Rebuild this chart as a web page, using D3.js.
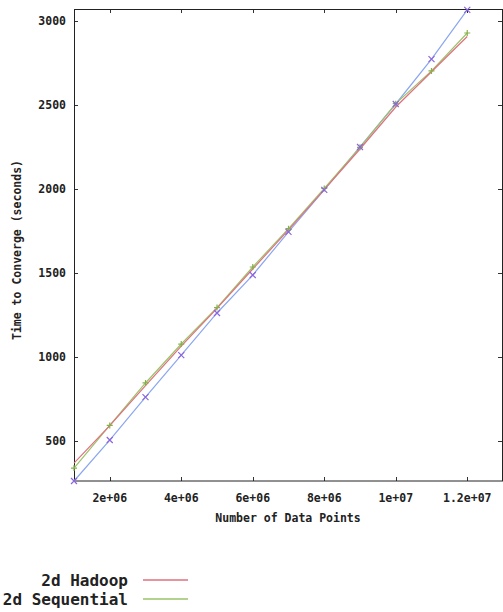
<!DOCTYPE html>
<html>
<head>
<meta charset="utf-8">
<script src="https://cdn.jsdelivr.net/npm/d3@7"></script>
<style>
  body { margin: 0; background: #fff; }
  svg { display: block; }
  text { font-family: "DejaVu Sans Mono", "Liberation Mono", monospace; font-weight: bold; fill: #222; }
</style>
</head>
<body>
<svg width="503" height="612"></svg>
<script>
'use strict';

// data
var points = [1e6, 2e6, 3e6, 4e6, 5e6, 6e6, 7e6, 8e6, 9e6, 1e7, 1.1e7, 1.2e7];
var hadoop = [369, 592, 830, 1065, 1290, 1525, 1758, 1998, 2240, 2490, 2700, 2910];
var sequential = [339, 593, 846, 1078, 1295, 1537, 1765, 2005, 2250, 2510, 2705, 2931];
var third = [262, 506, 762, 1012, 1263, 1489, 1746, 1996, 2252, 2508, 2775, 3069];

var xTicks = [2e6, 4e6, 6e6, 8e6, 1e7, 1.2e7];
var xTickLabels = ['2e+06', '4e+06', '6e+06', '8e+06', '1e+07', '1.2e+07'];
var yTicks = [500, 1000, 1500, 2000, 2500, 3000];
var legendNames = ['2d Hadoop', '2d Sequential'];
var legendColors = ['#e0707e', '#98c468'];

var svg = d3.select('svg');

// plot frame, gnuplot style
var margin = {top: 9, right: 1, bottom: 131, left: 74};
var width = 503 - margin.left - margin.right;
var height = 612 - margin.top - margin.bottom;

var x = d3.scaleLinear().domain([1e6, 1.3e7]).range([0, width + 1]);
var y = d3.scaleLinear().domain([262, 3074]).range([height, 0]);

var group = svg.append('g')
  .attr('transform', 'translate(' + margin.left + ',' + margin.top + ')');

/* ticks on all four sides, pointing inward */
var tickLen = 4;
var ticks = group.append('g').attr('stroke', '#333').attr('stroke-width', 1);

xTicks.forEach(function(t) {
  var px = Math.round(x(t)) + 0.5;
  ticks.append('line').attr('x1', px).attr('x2', px).attr('y1', height).attr('y2', height - tickLen);
  ticks.append('line').attr('x1', px).attr('x2', px).attr('y1', 0).attr('y2', tickLen);
});
yTicks.forEach(function(t) {
  var py = Math.round(y(t)) + 0.5;
  ticks.append('line').attr('x1', 0).attr('x2', tickLen).attr('y1', py).attr('y2', py);
  ticks.append('line').attr('x1', width).attr('x2', width - tickLen).attr('y1', py).attr('y2', py);
});

// border
group.append('rect')
  .attr('x', 0.5)
  .attr('y', 0.5)
  .attr('width', width)
  .attr('height', height - 0.5)
  .attr('fill', 'none')
  .attr('stroke', '#222')
  .attr('stroke-width', 1);

/* tick labels */
group.selectAll('.xlabel')
  .data(xTicks)
  .enter()
  .append('text')
  .attr('class', 'xlabel')
  .attr('x', function(d) { return x(d); })
  .attr('y', height + 17)
  .attr('dy', '0.35em')
  .attr('text-anchor', 'middle')
  .style('font-size', '11.5px')
  .text(function(d, i) { return xTickLabels[i]; });

group.selectAll('.ylabel')
  .data(yTicks)
  .enter()
  .append('text')
  .attr('class', 'ylabel')
  .attr('x', -8)
  .attr('y', function(d) { return y(d); })
  .attr('dy', '0.35em')
  .attr('text-anchor', 'end')
  .style('font-size', '11.5px')
  .text(function(d) { return d; });

// axis titles
svg.append('text')
  .attr('x', 288)
  .attr('y', 518)
  .attr('dy', '0.35em')
  .attr('text-anchor', 'middle')
  .style('font-size', '11.5px')
  .text('Number of Data Points');

svg.append('text')
  .attr('transform', 'translate(17,250) rotate(-90)')
  .attr('dy', '0.35em')
  .attr('text-anchor', 'middle')
  .style('font-size', '11.5px')
  .text('Time to Converge (seconds)');

/* series lines */
var line = d3.line()
  .x(function(d) { return x(d[0]); })
  .y(function(d) { return y(d[1]); });

function pairs(values) {
  return points.map(function(p, i) { return [p, values[i]]; });
}

group.append('path')
  .datum(pairs(third))
  .attr('fill', 'none')
  .attr('stroke', '#8aa6f0')
  .attr('stroke-width', 1.2)
  .attr('d', line);

group.append('path')
  .datum(pairs(sequential))
  .attr('fill', 'none')
  .attr('stroke', legendColors[1])
  .attr('stroke-width', 1.2)
  .attr('d', line);

group.append('path')
  .datum(pairs(hadoop))
  .attr('fill', 'none')
  .attr('stroke', legendColors[0])
  .attr('stroke-width', 1.2)
  .attr('d', line);

// '+' markers on sequential
var s = 3;
group.selectAll('.plus')
  .data(pairs(sequential))
  .enter()
  .append('path')
  .attr('class', 'plus')
  .attr('fill', 'none')
  .attr('stroke', '#86b04c')
  .attr('stroke-width', 1.2)
  .attr('d', function(d) {
    var cx = x(d[0]), cy = y(d[1]);
    return 'M' + (cx - s) + ',' + cy + 'H' + (cx + s) + 'M' + cx + ',' + (cy - s) + 'V' + (cy + s);
  });

// 'x' markers on the third series
group.selectAll('.cross')
  .data(pairs(third))
  .enter()
  .append('path')
  .attr('class', 'cross')
  .attr('fill', 'none')
  .attr('stroke', '#8a66de')
  .attr('stroke-width', 1.2)
  .attr('d', function(d) {
    var cx = x(d[0]), cy = y(d[1]);
    return 'M' + (cx - s) + ',' + (cy - s) + 'L' + (cx + s) + ',' + (cy + s) +
      'M' + (cx - s) + ',' + (cy + s) + 'L' + (cx + s) + ',' + (cy - s);
  });

/* legend */
var legend = svg.selectAll('.legend')
  .data(legendNames)
  .enter()
  .append('g')
  .attr('class', 'legend')
  .attr('transform', function(d, i) { return 'translate(0,' + (580 + i * 19) + ')'; });

legend.append('text')
  .attr('x', 128)
  .attr('dy', '0.35em')
  .attr('text-anchor', 'end')
  .style('font-size', '16px')
  .text(function(d) { return d; });

legend.append('line')
  .attr('x1', 143)
  .attr('x2', 188)
  .attr('stroke', function(d, i) { return legendColors[i]; })
  .attr('stroke-width', 1.5);
</script>
</body>
</html>
